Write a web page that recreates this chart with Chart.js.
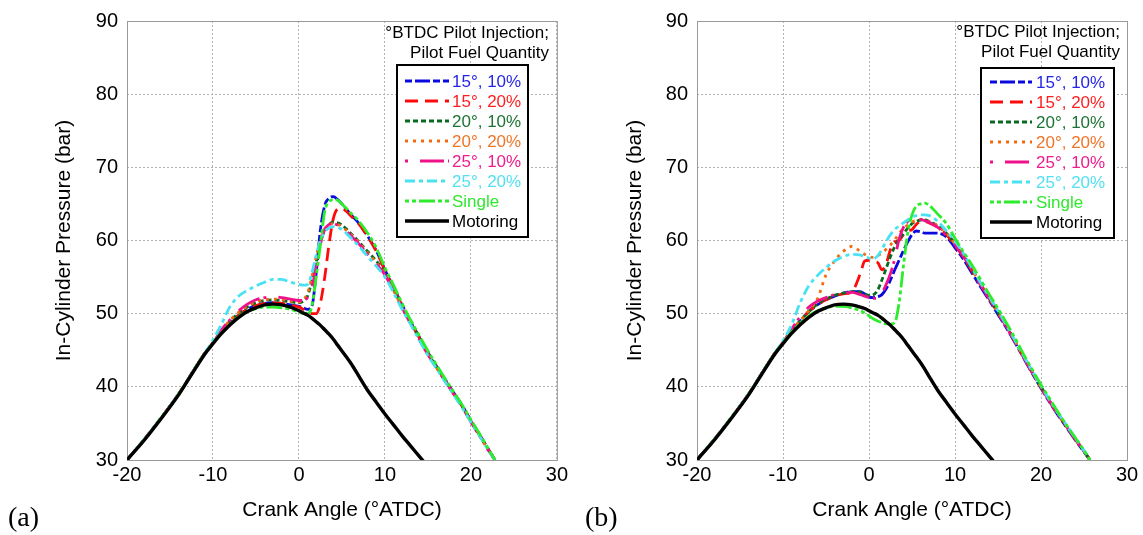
<!DOCTYPE html>
<html>
<head>
<meta charset="utf-8">
<script src="https://cdn.jsdelivr.net/npm/chart.js"></script>
<style>
  html, body { margin: 0; padding: 0; background: #fff; }
  #wrap { position: relative; width: 1143px; height: 535px; overflow: hidden; }
  canvas { position: absolute; top: 0; }
  #chartA { left: 0; }
  #chartB { left: 571px; }
</style>
</head>
<body>
<div id="wrap">
  <canvas id="chartA" width="571" height="535"></canvas>
  <canvas id="chartB" width="572" height="535"></canvas>
</div>
<script>
const FONT = '"Liberation Sans", Arial, sans-serif';

const seriesLabels = ["15°, 10%", "15°, 20%", "20°, 10%", "20°, 20%", "25°, 10%", "25°, 20%", "Single", "Motoring"];
const legendTitle = ["°BTDC Pilot Injection;", "Pilot Fuel Quantity"];
const xTicks = [-20, -10, 0, 10, 20, 30];
const yTicks = [30, 40, 50, 60, 70, 80, 90];

// panel (a)
const crankAngleA = [-20, -18, -16, -14, -12, -11, -10, -9, -8, -7, -6, -5, -4, -3, -2, -1,
  0, 0.5, 1, 1.5, 2, 2.5, 3, 3.5, 4, 4.5, 5, 5.5, 6,
  7, 8, 9, 10, 11, 12, 13, 14, 15, 16, 17, 18, 19, 20, 21, 22, 22.8];
const p15_10A = [30.0, 32.8, 35.8, 39.0, 42.7, 44.5, 46.0, 47.5, 48.8, 49.8, 50.6, 51.1, 51.4, 51.5, 51.4, 51.2,
  51.0, 50.8, 50.6, 51.0, 55.5, 61.5, 64.8, 65.8, 66.0, 65.6, 65.0, 64.3, 63.6,
  62.3, 60.6, 58.6, 56.0, 53.6, 51.2, 48.9, 46.8, 44.7, 42.8, 41.0, 39.2, 37.4, 35.4, 33.5, 31.5, 30.0];
const p15_20A = [30.0, 32.8, 35.8, 39.0, 42.7, 44.5, 46.0, 47.5, 48.8, 49.8, 50.6, 51.1, 51.4, 51.5, 51.4, 51.2,
  50.9, 50.6, 50.3, 50.0, 50.0, 51.5, 55.0, 59.5, 63.0, 64.3, 64.4, 64.0, 63.4,
  62.2, 60.5, 58.5, 55.9, 53.5, 51.1, 48.8, 46.7, 44.6, 42.7, 40.9, 39.1, 37.3, 35.3, 33.4, 31.5, 30.0];
const p20_10A = [30.0, 32.8, 35.8, 39.0, 42.7, 44.5, 46.0, 47.6, 49.0, 50.1, 50.9, 51.5, 51.8, 51.9, 51.8, 51.6,
  51.5, 51.7, 52.4, 54.5, 57.0, 59.8, 61.4, 62.2, 62.5, 62.4, 62.1, 61.6, 61.0,
  59.8, 58.5, 57.2, 55.6, 53.3, 51.0, 48.8, 46.7, 44.6, 42.7, 40.9, 39.1, 37.3, 35.3, 33.4, 31.5, 30.0];
const p20_20A = [30.0, 32.8, 35.8, 39.0, 42.7, 44.5, 46.0, 47.7, 49.1, 50.2, 51.0, 51.6, 51.9, 52.0, 51.9, 51.7,
  51.6, 51.9, 52.8, 55.0, 57.8, 60.2, 61.6, 62.2, 62.3, 62.2, 61.9, 61.4, 60.9,
  59.7, 58.3, 57.0, 55.5, 53.2, 50.9, 48.7, 46.6, 44.5, 42.6, 40.8, 39.0, 37.2, 35.2, 33.3, 31.4, 30.0];
const p25_10A = [30.0, 32.8, 35.8, 39.0, 42.7, 44.5, 46.0, 47.8, 49.2, 50.4, 51.3, 51.9, 52.2, 52.3, 52.2, 52.0,
  51.8, 51.8, 52.2, 53.5, 56.5, 59.5, 61.5, 62.2, 62.3, 62.1, 61.8, 61.3, 60.7,
  59.5, 58.1, 56.8, 55.3, 53.1, 50.8, 48.6, 46.5, 44.4, 42.6, 40.8, 39.0, 37.2, 35.2, 33.3, 31.4, 30.0];
const p25_20A = [30.0, 32.8, 35.8, 39.0, 42.7, 44.5, 46.4, 48.6, 51.0, 52.4, 53.2, 53.8, 54.3, 54.7, 54.7, 54.3,
  54.0, 53.9, 54.0, 55.5, 58.0, 60.0, 61.2, 61.7, 61.9, 61.8, 61.5, 61.0, 60.4,
  59.2, 57.8, 56.5, 55.0, 52.9, 50.6, 48.5, 46.4, 44.3, 42.5, 40.7, 38.9, 37.1, 35.2, 33.3, 31.4, 30.0];
const singleA = [30.0, 32.8, 35.8, 39.0, 42.7, 44.5, 46.0, 47.4, 48.6, 49.6, 50.3, 50.7, 50.9, 50.9, 50.8, 50.6,
  50.2, 50.0, 50.0, 51.0, 55.0, 59.5, 64.0, 65.3, 65.6, 65.5, 65.0, 64.4, 63.8,
  62.6, 61.0, 59.0, 56.3, 53.9, 51.4, 49.1, 47.0, 44.9, 43.0, 41.1, 39.3, 37.5, 35.5, 33.6, 31.6, 30.0];
const motoringA = [30.0, 32.7, 35.7, 38.9, 42.6, 44.4, 45.9, 47.3, 48.5, 49.5, 50.3, 50.8, 51.2, 51.3, 51.2, 50.9,
  50.4, 50.1, 49.8, 49.4, 48.9, 48.4, 47.8, 47.2, 46.5, 45.7, 44.9, 44.1, 43.3,
  41.4, 39.5, 37.9, 36.3, 34.8, 33.3, 31.9, 30.5, 29.1, null, null, null, null, null, null, null, null];

// panel (b)
const crankAngleB = [-20, -18, -16, -14, -12, -11, -10, -9, -8, -7, -6, -5, -4, -3, -2, -1,
  -0.5, 0, 0.5, 1, 1.5, 2, 2.5, 3, 3.5, 4, 4.5, 5, 5.5, 6, 6.5, 7,
  8, 9, 10, 11, 12, 13, 14, 15, 16, 17, 18, 19, 20, 21, 22, 23, 24, 25, 25.7];
const p15_10B = [30.0, 32.8, 35.8, 39.0, 42.7, 44.5, 46.0, 47.6, 49.0, 50.3, 51.2, 51.9, 52.4, 52.8, 53.0, 53.0,
  52.7, 52.3, 52.2, 52.3, 52.6, 53.4, 54.6, 56.0, 57.3, 58.6, 59.8, 60.8, 61.3, 61.2, 61.0, 61.0,
  61.0, 60.5, 59.0, 57.4, 55.5, 53.6, 51.8, 49.9, 48.0, 46.0, 43.9, 41.8, 39.8, 37.9, 36.1, 34.4, 32.7, 31.1, 30.0];
const p15_20B = [30.0, 32.8, 35.8, 39.0, 42.7, 44.5, 46.0, 47.6, 49.0, 50.3, 51.2, 51.9, 52.4, 52.7, 53.0, 55.5,
  57.2, 57.3, 57.1, 57.0, 56.0, 56.8, 58.8, 59.8, 60.0, 60.8, 61.3, 61.5, 62.2, 62.6, 62.6, 62.4,
  61.8, 60.8, 59.3, 57.7, 55.8, 53.9, 52.0, 50.1, 48.2, 46.1, 44.0, 41.9, 39.9, 38.0, 36.2, 34.5, 32.8, 31.2, 30.0];
const p20_10B = [30.0, 32.8, 35.8, 39.0, 42.7, 44.5, 46.0, 47.6, 49.0, 50.3, 51.3, 52.0, 52.5, 52.8, 53.0, 52.9,
  52.7, 52.5, 52.6, 53.2, 54.6, 56.2, 57.8, 59.2, 60.2, 60.9, 61.7, 62.3, 62.6, 62.8, 62.8, 62.6,
  62.0, 61.0, 59.6, 57.9, 56.0, 54.0, 52.1, 50.2, 48.3, 46.2, 44.1, 42.0, 40.0, 38.1, 36.3, 34.6, 32.9, 31.2, 30.0];
const p20_20B = [30.0, 32.8, 35.8, 39.0, 42.7, 44.5, 46.0, 47.6, 49.0, 50.4, 52.0, 55.3, 57.2, 58.5, 59.2, 58.5,
  58.1, 57.8, 57.7, 57.9, 58.3, 58.8, 59.4, 60.1, 61.0, 61.6, 62.1, 62.5, 62.8, 62.9, 62.8, 62.6,
  62.0, 61.0, 59.5, 57.9, 56.0, 54.0, 52.1, 50.2, 48.3, 46.2, 44.1, 42.0, 40.0, 38.1, 36.3, 34.6, 32.9, 31.2, 30.0];
const p25_10B = [30.0, 32.8, 35.8, 39.0, 42.7, 44.5, 46.1, 47.9, 49.6, 50.9, 51.7, 52.2, 52.6, 52.8, 52.9, 52.6,
  52.4, 52.2, 52.1, 52.1, 52.8, 54.0, 55.5, 57.5, 60.2, 61.8, 62.6, 62.9, 63.0, 62.9, 62.7, 62.5,
  61.8, 60.7, 59.4, 57.8, 55.9, 53.9, 52.0, 50.1, 48.2, 46.1, 44.0, 41.9, 39.9, 38.0, 36.2, 34.5, 32.8, 31.2, 30.0];
const p25_20B = [30.0, 32.8, 35.8, 39.0, 42.7, 44.5, 46.3, 48.5, 51.5, 53.8, 55.2, 56.3, 57.2, 57.8, 58.1, 58.0,
  57.8, 57.6, 57.5, 57.9, 58.8, 59.9, 60.8, 61.5, 62.0, 62.4, 62.8, 63.2, 63.4, 63.5, 63.5, 63.4,
  62.6, 61.3, 59.9, 58.2, 56.2, 54.2, 52.3, 50.4, 48.4, 46.3, 44.2, 42.1, 40.1, 38.2, 36.4, 34.7, 33.0, 31.3, 30.0];
const singleB = [30.0, 32.8, 35.8, 39.0, 42.7, 44.5, 46.0, 47.5, 48.7, 49.7, 50.4, 50.8, 51.0, 51.0, 50.8, 50.4,
  50.1, 49.7, 49.3, 49.0, 48.8, 48.6, 48.6, 48.8, 51.5, 56.5, 61.0, 63.5, 64.7, 65.0, 65.1, 64.8,
  63.6, 62.3, 60.3, 58.4, 56.6, 54.6, 52.6, 50.7, 48.7, 46.6, 44.4, 42.3, 40.3, 38.4, 36.5, 34.7, 33.0, 31.3, 30.0];
const motoringB = [30.0, 32.7, 35.7, 38.9, 42.6, 44.4, 45.9, 47.3, 48.5, 49.5, 50.3, 50.8, 51.2, 51.3, 51.2, 50.9,
  50.7, 50.4, 50.1, 49.8, 49.4, 48.9, 48.4, 47.8, 47.2, 46.5, 45.7, 44.9, 44.1, 43.3, 42.4, 41.4,
  39.5, 37.9, 36.3, 34.8, 33.3, 31.9, 30.5, 29.1, null, null, null, null, null, null, null, null, null, null, null];

// line look per series, same order as the labels; order = draw stacking (0 on top)
const SERIES_STYLE = [
  { color: "#0a0ae0", text: "#2424e6", dash: [7, 3, 15, 3], width: 2.8, order: 7 },
  { color: "#ff0a0a", text: "#ff1e1e", dash: [13, 7], width: 2.8, order: 6 },
  { color: "#0b6a22", text: "#1c7434", dash: [5, 3], width: 2.8, order: 5 },
  { color: "#f46a10", text: "#f07426", dash: [3, 5], width: 2.8, order: 4 },
  { color: "#f0108a", text: "#ee1c8e", dash: [3, 12, 24, 4], width: 2.8, order: 3 },
  { color: "#48e2f4", text: "#52e0f2", dash: [10, 4, 4, 4], width: 2.8, order: 2 },
  { color: "#2cec2c", text: "#30e830", dash: [4, 3, 4, 3, 16, 3], width: 2.8, order: 1 },
  { color: "#000000", text: "#000000", dash: [], width: 3.4, order: 0 },
];

const toPoints = (angles, values) =>
  angles.map((x, i) => ({ x, y: values[i] }));

const buildDatasets = (angles, seriesList) =>
  seriesList.map((values, i) => {
    const s = SERIES_STYLE[i];
    return {
      label: seriesLabels[i],
      data: toPoints(angles, values),
      borderColor: s.color,
      borderDash: s.dash,
      borderWidth: s.width,
      pointRadius: 0,
      cubicInterpolationMode: "monotone",
      fill: false,
      spanGaps: false,
      order: s.order,
      clip: 0,
    };
  });

// gray box round the plot area
const framePlugin = {
  id: "frame",
  beforeDatasetsDraw(chart) {
    const { ctx, chartArea: a } = chart;
    ctx.save();
    ctx.strokeStyle = "#9a9a9a";
    ctx.lineWidth = 1;
    ctx.setLineDash([]);
    ctx.strokeRect(a.left + 0.5, a.top + 0.5, a.right - a.left, a.bottom - a.top);
    ctx.restore();
  },
};

const pilotLegend = {
  id: "pilotLegend",
  afterDraw(chart, args, opts) {
    const { ctx } = chart;
    ctx.save();
    ctx.font = `17px ${FONT}`;
    ctx.textBaseline = "middle";
    ctx.textAlign = "right";
    ctx.fillStyle = "#000";
    legendTitle.forEach((line, i) =>
      ctx.fillText(line, opts.titleRight, opts.titleTop + i * 20),
    );

    const b = opts.box;
    ctx.fillStyle = "#fff";
    ctx.fillRect(b.x, b.y, b.w, b.h);
    ctx.strokeStyle = "#000";
    ctx.lineWidth = 2;
    ctx.strokeRect(b.x, b.y, b.w, b.h);

    ctx.textAlign = "left";
    seriesLabels.forEach((label, i) => {
      const s = SERIES_STYLE[i];
      const y = opts.rowTop + i * 20;
      ctx.beginPath();
      ctx.setLineDash(s.dash);
      ctx.strokeStyle = s.color;
      ctx.lineWidth = s.width;
      ctx.moveTo(opts.lineX0, y);
      ctx.lineTo(opts.lineX1, y);
      ctx.stroke();
      ctx.setLineDash([]);
      ctx.fillStyle = s.text;
      ctx.fillText(label, opts.textX, y + 1);
    });

    // panel letter
    ctx.font = '28px "Liberation Serif", "Times New Roman", serif';
    ctx.fillStyle = "#000";
    ctx.textBaseline = "alphabetic";
    ctx.fillText(opts.panel, opts.panelX, 526);
    ctx.restore();
  },
};

const makeChart = (canvasId, angles, seriesList, right, legendOpts) => {
  const canvas = document.getElementById(canvasId);
  return new Chart(canvas.getContext("2d"), {
    type: "line",
    data: { datasets: buildDatasets(angles, seriesList) },
    plugins: [framePlugin, pilotLegend],
    options: {
      responsive: false,
      animation: false,
      devicePixelRatio: 1,
      layout: { padding: { left: 0, right: right, top: 15, bottom: 0 } },
      plugins: {
        legend: { display: false },
        tooltip: { enabled: false },
        pilotLegend: legendOpts,
      },
      scales: {
        x: {
          type: "linear",
          min: xTicks[0],
          max: xTicks[xTicks.length - 1],
          afterBuildTicks: (scale) => {
            scale.ticks = xTicks.map((v) => ({ value: v }));
          },
          afterFit: (scale) => {
            scale.height = 75;
          },
          ticks: { color: "#000", font: { size: 20, family: FONT }, padding: 3, maxRotation: 0 },
          grid: { color: "#b2b2b2", lineWidth: 1, drawTicks: false },
          border: { display: false, dash: [2, 2] },
          title: {
            display: true,
            text: "Crank Angle (°ATDC)",
            color: "#000",
            font: { size: 21, family: FONT },
            padding: { top: 0, bottom: 12 },
          },
        },
        y: {
          type: "linear",
          min: yTicks[0],
          max: yTicks[yTicks.length - 1],
          afterBuildTicks: (scale) => {
            scale.ticks = yTicks.map((v) => ({ value: v }));
          },
          afterFit: (scale) => {
            scale.width = legendOpts.axisWidth;
          },
          ticks: { color: "#000", font: { size: 20, family: FONT }, padding: 9 },
          grid: { color: "#b2b2b2", lineWidth: 1, drawTicks: false },
          border: { display: false, dash: [2, 2] },
          title: {
            display: true,
            text: "In-Cylinder Pressure (bar)",
            color: "#000",
            font: { size: 21, family: FONT },
            padding: { top: 52, bottom: 0 },
          },
        },
      },
    },
  });
};

makeChart(
  "chartA",
  crankAngleA,
  [p15_10A, p15_20A, p20_10A, p20_20A, p25_10A, p25_20A, singleA, motoringA],
  14,
  {
    axisWidth: 127,
    titleRight: 549,
    titleTop: 33,
    box: { x: 397, y: 65, w: 131, h: 172 },
    rowTop: 81,
    lineX0: 405,
    lineX1: 449,
    textX: 452,
    panel: "(a)",
    panelX: 8,
  },
);

makeChart(
  "chartB",
  crankAngleB,
  [p15_10B, p15_20B, p20_10B, p20_20B, p25_10B, p25_20B, singleB, motoringB],
  16,
  {
    axisWidth: 126,
    titleRight: 549,
    titleTop: 32,
    box: { x: 410, y: 68, w: 133, h: 170 },
    rowTop: 82,
    lineX0: 419,
    lineX1: 461,
    textX: 465,
    panel: "(b)",
    panelX: 14,
  },
);
</script>
</body>
</html>
